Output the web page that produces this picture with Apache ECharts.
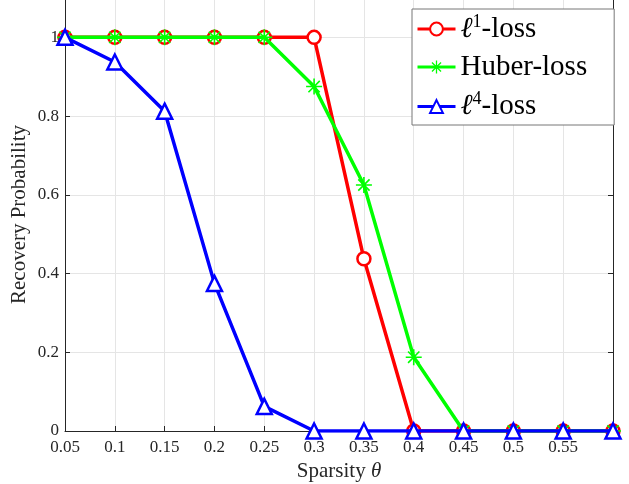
<!DOCTYPE html>
<html>
<head>
<meta charset="utf-8">
<script src="https://cdn.jsdelivr.net/npm/echarts@6/dist/echarts.min.js"></script>
<style>
html,body{margin:0;padding:0;background:#fff;}
#c{width:629px;height:484px;}
</style>
</head>
<body>
<div id="c"></div>
<script>
const thetas = [0.05, 0.1, 0.15, 0.2, 0.25, 0.3, 0.35, 0.4, 0.45, 0.5, 0.55, 0.6];
const l1Loss = [1, 1, 1, 1, 1, 1, 0.4375, 0, 0, 0, 0, 0];
const huberLoss = [1, 1, 1, 1, 1, 0.875, 0.625, 0.1875, 0, 0, 0, 0];
const l4Loss = [1, 0.9375, 0.8125, 0.375, 0.0625, 0, 0, 0, 0, 0, 0, 0];
const seriesNames = ['l1', 'huber', 'l4'];
const yTitle = 'Recovery Probability';

const FONT = '"Liberation Serif", "DejaVu Serif", serif';
const AX = '#262626';
const asterisk = 'path://M-1,-10L1,-10L1,10L-1,10Z M-10,-1L10,-1L10,1L-10,1Z M-6.36,-7.78L7.78,6.36L6.36,7.78L-7.78,-6.36Z M6.36,-7.78L7.78,-6.36L-6.36,7.78L-7.78,6.36Z';

function pairs(ys){ return thetas.map((x,i)=>[x, ys[i]]); }

const chart = echarts.init(document.getElementById('c'), null, {renderer:'canvas'});
const legendRich = {
  a: {fontFamily: FONT, fontSize: 29, color: '#000'},
  i: {fontFamily: FONT, fontSize: 29, color: '#000', fontStyle: 'italic'},
  s: {fontFamily: FONT, fontSize: 18, color: '#000', verticalAlign: 'top', padding: [0,0,14,0]}
};
chart.setOption({
  animation: false,
  backgroundColor: '#fff',
  grid: {left: 65, right: 16, top: -2, bottom: 53, containLabel: false, outerBoundsMode: 'none'},
  xAxis: [{
    type: 'value', min: 0.05, max: 0.6, interval: 0.05,
    name: '{a|Sparsity }{b|θ}', nameLocation: 'middle', nameGap: 30,
    nameTextStyle: {fontFamily: FONT, fontSize: 21, color: AX,
      rich: {a: {fontFamily: FONT, fontSize: 21, color: AX},
             b: {fontFamily: FONT, fontSize: 21, color: AX, fontStyle: 'italic'}}},
    axisLine: {show: true, onZero: false, lineStyle: {color: AX, width: 1}},
    axisTick: {show: true, inside: true, length: 5, lineStyle: {color: AX}},
    axisLabel: {fontFamily: FONT, fontSize: 17, color: AX, margin: 8, showMaxLabel: false,
      formatter: v => String(+v.toFixed(2))},
    splitLine: {show: true, lineStyle: {color: '#e5e5e5', width: 1}}
  }],
  yAxis: [{
    type: 'value', min: 0, max: 1.1, interval: 0.2,
    name: yTitle, nameLocation: 'middle', nameGap: 35, nameMoveOverlap: false,
    nameTextStyle: {fontFamily: FONT, fontSize: 21, color: AX},
    axisLine: {show: true, lineStyle: {color: AX, width: 1}},
    axisTick: {show: true, inside: true, length: 5, lineStyle: {color: AX}},
    axisLabel: {fontFamily: FONT, fontSize: 17, color: AX, margin: 6, showMaxLabel: false,
      formatter: v => String(+v.toFixed(1))},
    splitLine: {show: true, lineStyle: {color: '#e5e5e5', width: 1}}
  }, {
    type: 'value', min: 0, max: 1.1, interval: 0.2, position: 'right',
    axisLine: {show: true, lineStyle: {color: AX, width: 1}},
    axisTick: {show: true, inside: true, length: 5, lineStyle: {color: AX}},
    axisLabel: {show: false}, splitLine: {show: false}
  }],
  legend: {
    left: 412, top: 9, orient: 'vertical',
    padding: [4, 27, 4, 4], itemGap: 9, itemWidth: 38, itemHeight: 16,
    backgroundColor: '#fff', borderColor: '#777', borderWidth: 1, borderRadius: 0,
    lineStyle: {width: 3},
    data: seriesNames,
    formatter: function(n){
      if (n === 'l1') return '{i|ℓ}{s|1}{a|-loss}';
      if (n === 'huber') return '{a|Huber-loss}';
      return '{i|ℓ}{s|4}{a|-loss}';
    },
    textStyle: {rich: legendRich}
  },
  series: [
    {name: 'l1', type: 'line', data: pairs(l1Loss), color: '#ff0000',
      lineStyle: {width: 3.5, color: '#ff0000'}, symbol: 'circle', symbolSize: 13,
      itemStyle: {color: '#fff', borderColor: '#ff0000', borderWidth: 2.5}, z: 2},
    {name: 'huber', type: 'line', data: pairs(huberLoss), color: '#00ff00',
      lineStyle: {width: 3.5, color: '#00ff00'}, symbol: asterisk, symbolSize: 16,
      itemStyle: {color: '#00ff00', borderWidth: 0}, z: 3},
    {name: 'l4', type: 'line', data: pairs(l4Loss), color: '#0000ff',
      lineStyle: {width: 3.5, color: '#0000ff'}, symbol: 'triangle', symbolSize: 15,
      itemStyle: {color: '#fff', borderColor: '#0000ff', borderWidth: 2.5}, z: 4}
  ]
});
</script>
</body>
</html>
